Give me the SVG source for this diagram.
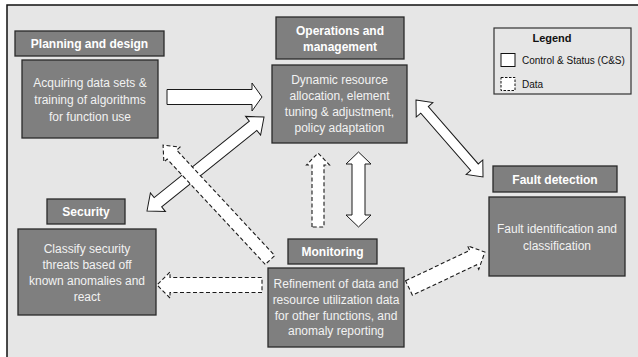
<svg xmlns="http://www.w3.org/2000/svg" width="638" height="357" viewBox="0 0 638 357">
  <style>
    .frame { fill: #e6e6e6; stroke: #111; stroke-width: 1.5; }
    .box { fill: #7f7f7f; stroke: #2a2a2a; stroke-width: 1.3; }
    .title { font-family: "Liberation Sans", Arial, sans-serif; font-size: 12px; font-weight: bold; fill: #ffffff; text-anchor: middle; }
    .body { font-family: "Liberation Sans", Arial, sans-serif; font-size: 12px; fill: #f2f2f2; text-anchor: middle; }
    .solid { fill: #ffffff; stroke: #1a1a1a; stroke-width: 1; stroke-linejoin: miter; }
    .data { fill: #ffffff; stroke: #1a1a1a; stroke-width: 1.1; stroke-dasharray: 4 2.5; }
    .legend { fill: #e6e6e6; stroke: #333; stroke-width: 1.2; }
    .ltitle { font-family: "Liberation Sans", Arial, sans-serif; font-size: 11px; font-weight: bold; fill: #111; text-anchor: middle; }
    .ltext { font-family: "Liberation Sans", Arial, sans-serif; font-size: 10px; fill: #111; }
  </style>

  <rect width="638" height="357" fill="#ffffff"/>
  <rect class="frame" x="7" y="5" width="640" height="360"/>

  <!-- connectors -->
  <g id="connectors">
    <!-- planning -> operations -->
    <polygon class="solid" transform="translate(167,97)" points="0,-7.5 85,-7.5 85,-14 95,0 85,14 85,7.5 0,7.5"/>
    <!-- security <-> operations -->
    <polygon class="solid" transform="translate(147,211) rotate(-38.78)" points="0,0 14,-12 14,-6 136.1,-6 136.1,-12 150.1,0 136.1,12 136.1,6 14,6 14,12"/>
    <!-- monitoring -> planning (data) -->
    <polygon class="data" transform="translate(270,260) rotate(-132.94)" points="0,-6.5 144,-6.5 144,-11 157,0 144,11 144,6.5 0,6.5"/>
    <!-- monitoring -> operations (data) -->
    <polygon class="data" transform="translate(318,227) rotate(-90)" points="0,-6 62,-6 62,-11.5 74,0 62,11.5 62,6 0,6"/>
    <!-- operations <-> monitoring -->
    <polygon class="solid" transform="translate(358.5,227) rotate(-90)" points="0,0 12,-12.5 12,-6.5 63,-6.5 63,-12.5 75,0 63,12.5 63,6.5 12,6.5 12,12.5"/>
    <!-- operations <-> fault detection -->
    <polygon class="solid" transform="translate(416,100) rotate(48.97)" points="0,0 13,-11 13,-5 89.1,-5 89.1,-11 102.1,0 89.1,11 89.1,5 13,5 13,11"/>
    <!-- monitoring -> security (data) -->
    <polygon class="data" transform="translate(262,285) rotate(180)" points="0,-7.5 92,-7.5 92,-13 105,0 92,13 92,7.5 0,7.5"/>
    <!-- monitoring -> fault detection (data) -->
    <polygon class="data" transform="translate(409,288) rotate(-25.35)" points="0,-8 71,-8 71,-13 84,0 71,13 71,8 0,8"/>
  </g>

  <g id="planning">
    <rect class="box" x="15" y="31" width="149" height="25"/>
    <text class="title" x="89.5" y="48">Planning and design</text>
    <rect class="box" x="22" y="60" width="136" height="78"/>
    <text class="body" x="90" y="87">Acquiring data sets &amp;</text>
    <text class="body" x="90" y="104">training of algorithms</text>
    <text class="body" x="90" y="121">for function use</text>
  </g>

  <g id="operations">
    <rect class="box" x="276" y="17" width="128" height="42"/>
    <text class="title" x="340" y="35">Operations and</text>
    <text class="title" x="340" y="51">management</text>
    <rect class="box" x="272" y="65" width="135" height="78"/>
    <text class="body" x="339.5" y="84">Dynamic resource</text>
    <text class="body" x="339.5" y="100">allocation, element</text>
    <text class="body" x="339.5" y="116">tuning &amp; adjustment,</text>
    <text class="body" x="339.5" y="132">policy adaptation</text>
  </g>

  <g id="legend">
    <rect class="legend" x="494" y="28" width="137" height="66"/>
    <text class="ltitle" x="552" y="42">Legend</text>
    <rect x="501" y="53.5" width="14" height="13" fill="#ffffff" stroke="#111" stroke-width="1"/>
    <text class="ltext" x="522" y="64">Control &amp; Status (C&amp;S)</text>
    <rect x="501" y="77.5" width="14" height="13" fill="#ffffff" stroke="#111" stroke-width="1" stroke-dasharray="2.5 1.5"/>
    <text class="ltext" x="522" y="88">Data</text>
  </g>

  <g id="fault-detection">
    <rect class="box" x="493" y="166" width="124" height="26"/>
    <text class="title" x="555" y="183.5">Fault detection</text>
    <rect class="box" x="489" y="197" width="136" height="79"/>
    <text class="body" x="557" y="233">Fault identification and</text>
    <text class="body" x="557" y="250">classification</text>
  </g>

  <g id="security">
    <rect class="box" x="47" y="199" width="78" height="25"/>
    <text class="title" x="86" y="215.5">Security</text>
    <rect class="box" x="18" y="229" width="138" height="86"/>
    <text class="body" x="87" y="253">Classify security</text>
    <text class="body" x="87" y="269">threats based off</text>
    <text class="body" x="87" y="285">known anomalies and</text>
    <text class="body" x="87" y="301">react</text>
  </g>

  <g id="monitoring">
    <rect class="box" x="288" y="239" width="89" height="25"/>
    <text class="title" x="332.5" y="256">Monitoring</text>
    <rect class="box" x="268" y="268" width="136" height="79"/>
    <text class="body" x="336" y="288">Refinement of data and</text>
    <text class="body" x="336" y="304">resource utilization  data</text>
    <text class="body" x="336" y="320">for other functions, and</text>
    <text class="body" x="336" y="335">anomaly reporting</text>
  </g>
</svg>
